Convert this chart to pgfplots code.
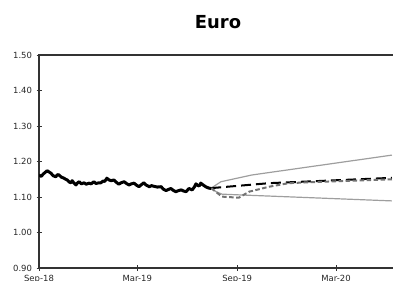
\documentclass[border=0pt]{standalone}
\usepackage{fontspec}
\setmainfont{DejaVu Sans}
\usepackage{pgfplots}
\pgfplotsset{compat=1.18}
\begin{document}
\begin{tikzpicture}[x=1bp,y=1bp]
\useasboundingbox (0,0) rectangle (393,281);
\clip (0,0) rectangle (393,281);
\node[font=\fontsize{18}{20}\selectfont\bfseries] at (218,259) {Euro};
\begin{axis}[
  at={(39bp,13bp)}, anchor=south west,
  scale only axis, width=358.4bp, height=213bp,
  xmin=0, xmax=660, ymin=0.9, ymax=1.5,
  xtick={0,181,365,547},
  xticklabels={Sep-18,Mar-19,Sep-19,Mar-20},
  ytick={0.9,1.0,1.1,1.2,1.3,1.4,1.5},
  yticklabel style={xshift=-1bp},
  yticklabel={\pgfmathprintnumber[fixed,fixed zerofill,precision=2]{\tick}},
  /pgf/number format/assume math mode=true,
  tick label style={font=\fontsize{8.5}{9}\selectfont, text=black!85},
  tick align=center, major tick length=5bp,
  xtick pos=bottom, ytick pos=left,
  tick style={black!80, line width=0.8bp},
  axis line style={black!80, line width=1.2bp},
  xticklabel style={yshift=-1bp},
  clip=true,
]
% upper band
\addplot[color=black!38, line width=1.2bp] coordinates {
(317,1.125) (335,1.143) (392,1.162) (650,1.218) };
% lower band
\addplot[color=black!38, line width=1.2bp] coordinates {
(317,1.125) (326,1.115) (337,1.108) (368,1.106) (650,1.089) };
% black dashed central
\addplot[color=black, line width=2bp, dash pattern=on 10bp off 5bp] coordinates {
(317,1.125) (424,1.139) (650,1.154) };
% gray dashed
\addplot[color=black!55, line width=2bp, dash pattern=on 4.5bp off 2.5bp] coordinates {
(317,1.125) (337,1.101) (368,1.098) (387,1.115) (424,1.129) (460,1.139) (521,1.143) (650,1.150) };
% actual
\addplot[color=black, line width=3bp, line join=round] coordinates {
(0,1.162) (4,1.158) (8,1.165) (15,1.174) (19,1.170) (22,1.167) (26,1.160)
(31,1.157) (34,1.163) (37,1.162) (41,1.156) (46,1.153) (49,1.150)
(52,1.148) (56,1.142) (59,1.140) (61,1.146) (64,1.140) (68,1.134)
(71,1.140) (74,1.143) (78,1.137) (83,1.140) (87,1.136) (92,1.139)
(96,1.137) (101,1.143) (105,1.138) (110,1.140) (114,1.140) (118,1.145)
(121,1.144) (125,1.153) (129,1.148) (133,1.146) (138,1.148) (142,1.142)
(147,1.136) (151,1.140) (157,1.143) (161,1.138) (166,1.134) (170,1.137)
(175,1.139) (179,1.134) (184,1.129) (188,1.134) (193,1.140) (197,1.134)
(203,1.129) (207,1.132) (212,1.130) (218,1.128) (225,1.129) (229,1.122)
(234,1.118) (238,1.121) (243,1.124) (247,1.119) (252,1.115) (257,1.118)
(262,1.120) (266,1.117) (271,1.115) (276,1.124) (279,1.122) (282,1.120)
(286,1.128) (289,1.137) (292,1.133) (295,1.131) (298,1.139) (303,1.133)
(308,1.128) (313,1.125) (317,1.124) };
\end{axis}
\end{tikzpicture}
\end{document}
